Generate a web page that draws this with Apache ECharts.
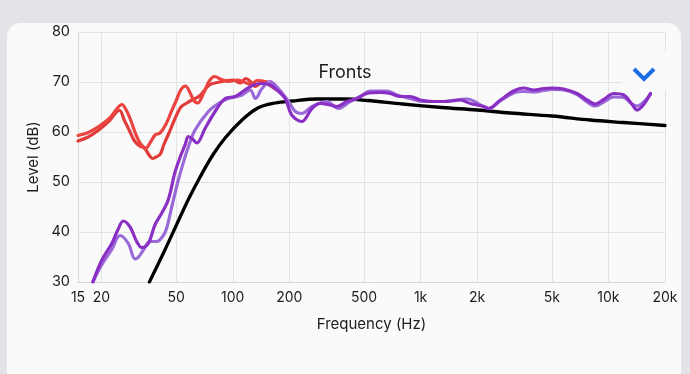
<!DOCTYPE html>
<html>
<head>
<meta charset="utf-8">
<script src="https://cdn.jsdelivr.net/npm/echarts@6/dist/echarts.min.js"></script>
<style>
  html, body { margin: 0; padding: 0; width: 690px; height: 374px; overflow: hidden; background: #e3e4e9; }
  #card { position: absolute; left: 7px; top: 23px; width: 674px; height: 380px; border-radius: 14px; background: #fafafa; }
  #chart { position: absolute; left: 0; top: 0; width: 690px; height: 374px; }
</style>
</head>
<body>
<div id="card"></div>
<div id="chart"></div>
<script>
// ---- data ----
const chartTitle = 'Fronts';
const xTicks = [15, 20, 50, 100, 200, 500, 1000, 2000, 5000, 10000, 20000];
const xMin = 15, xMax = 20000;
const yMin = 30, yMax = 80, yStep = 10;

// [frequency Hz, level dB]
const target = [[36,30],[43,36],[50,41.3],[58,46.5],[67,51],[78,55.3],[91,58.8],[112,62.4],[136,64.8],[168,65.8],[206,66.2],[280,66.6],[400,66.6],[520,66.3],[800,65.6],[1300,64.9],[2000,64.4],[3000,63.8],[5000,63.2],[8000,62.4],[12000,61.9],[20000,61.3]];

const redA = [[15,59.3],[17,59.9],[19.5,61.2],[22,62.7],[24,64.5],[25.7,65.5],[27,64.5],[28.4,62.7],[30.5,59.5],[32.5,57.5],[34.5,56.8],[36.5,58],[38.6,59.4],[41,59.8],[44,61.5],[47,64],[50,66.3],[53,68.5],[56,69.2],[59,68],[62,66.3],[65,65.8],[70,67.8],[75,70.2],[80,71.1],[87,70.5],[95,70.1],[105,70.4],[115,70],[125,69.5],[135,70.3],[145,70.2],[155,69.5],[165,68.8]];

const redB = [[15,58.2],[17,59],[19.5,60.5],[22,62.2],[24,64],[25,64.3],[26.5,62.3],[28,60.5],[30,58.2],[32,57.2],[34,56.7],[36,55.3],[37.5,54.7],[39,55],[41,55.5],[43,57.5],[46,60],[49,62.5],[53,65],[57,65.8],[60,66.3],[67,67.3],[75,69.4],[85,70],[100,70.4],[110,69.8],[117,70.7],[125,70],[131,69.1],[140,69.7],[150,70.1],[160,69.6],[168,68.6]];

const purpleA = [[18,30],[20.1,34.4],[22.7,37.7],[24.5,40.5],[26.1,42.2],[28.4,41],[30.8,38.1],[32.8,36.9],[35.5,37.7],[38.6,41.5],[41.9,43.8],[45.4,46.5],[49.3,52],[53.5,55.8],[55.7,57.4],[58,59.1],[61,58.6],[64.4,57.8],[71.2,60.7],[80.5,64.1],[91,66.7],[103,67.1],[116,68.4],[129,69.4],[143,69.7],[158,69.4],[168,68.7],[190,66.7],[206,63.4],[233,62.1],[264,64.7],[292,65.7],[330,65.4],[358,65.1],[405,66.1],[458,66.7],[518,67.7],[609,67.9],[689,67.7],[779,67.1],[881,67.1],[996,66.4],[1173,66.1],[1381,66.1],[1626,66.4],[1839,65.7],[2165,65.1],[2301,64.7],[2658,66.4],[3128,68.2],[3537,68.8],[3999,68.4],[4520,68.7],[5010,68.8],[5775,68.6],[6808,67.7],[7698,66.4],[8521,65.6],[9435,66.5],[10665,67.7],[12060,67.4],[13370,65.5],[14210,64.4],[15410,65.5],[16720,67.7]];

const purpleB = [[18,30],[20.1,33.5],[22.7,36.5],[25.1,39.3],[27.8,37.7],[30.2,34.6],[31.5,35],[33.4,36.4],[36.3,38.1],[39.4,38.1],[42.7,39.3],[44.5,40.8],[47.4,45.1],[51.3,50.4],[55.7,55],[58,57],[63,60.4],[74.2,64.1],[83.9,65.7],[94.8,66.7],[112,67.4],[124,68.4],[132,66.7],[143,68.7],[158,70.1],[175,68.7],[198,66.1],[215,64.1],[233,63.7],[264,65.1],[317,66.1],[366,64.7],[422,66.1],[477,67.1],[539,68.2],[662,68.2],[748,67.4],[881,66.7],[1037,66.1],[1272,66.1],[1766,66.6],[2165,65.1],[2301,64.7],[2658,66.2],[3128,67.8],[3537,68.1],[3999,68],[4520,68.3],[5010,68.5],[5775,68.4],[6808,67.5],[7698,66],[8521,65.2],[9435,66],[10665,67],[12060,66.9],[13370,65.6],[14210,65.2],[15410,66],[16720,67.5]];

// ---- chart ----
const FONT = 'Inter, "Liberation Sans", Arial, sans-serif';
const chart = echarts.init(document.getElementById('chart'), null, { renderer: 'canvas' });

function fmtHz(v) {
  const r = Math.round(v);
  return r >= 1000 ? (r / 1000) + 'k' : String(r);
}
function line(data, color, width, z) {
  return { type: 'line', data: data, smooth: 0.35, showSymbol: false, symbol: 'none',
           lineStyle: { color: color, width: width, cap: 'round', join: 'round' }, z: z, clip: true };
}

chart.setOption({
  animation: false,
  backgroundColor: 'transparent',
  title: { text: chartTitle, left: 'center', top: 64, padding: 0,
           textStyle: { fontFamily: FONT, fontSize: 18, fontWeight: 'normal', color: '#1c1c1e' } },
  grid: { left: 78, right: 25, top: 32, bottom: 92, containLabel: false },
  xAxis: {
    type: 'log', logBase: 10, min: xMin, max: xMax,
    name: 'Frequency (Hz)', nameLocation: 'middle', nameGap: 35,
    nameTextStyle: { fontFamily: FONT, fontSize: 15, color: '#1c1c1e' },
    axisLine: { show: true, lineStyle: { color: '#d9d9d9', width: 1 } },
    axisTick: { show: false, customValues: xTicks },
    axisLabel: { customValues: xTicks, formatter: fmtHz, margin: 9,
                 fontFamily: FONT, fontSize: 14, color: '#1c1c1e' },
    splitLine: { show: true, lineStyle: { color: '#e3e3e3', width: 1 } },
    minorTick: { show: false }, minorSplitLine: { show: false }
  },
  yAxis: {
    type: 'value', min: yMin, max: yMax, interval: yStep,
    name: 'Level (dB)', nameLocation: 'middle', nameGap: 36,
    nameTextStyle: { fontFamily: FONT, fontSize: 15, color: '#1c1c1e' },
    axisLine: { show: true, lineStyle: { color: '#d9d9d9', width: 1 } },
    axisTick: { show: false },
    axisLabel: { margin: 8, fontFamily: FONT, fontSize: 14.5, color: '#1c1c1e' },
    splitLine: { show: true, lineStyle: { color: '#e3e3e3', width: 1 } }
  },
  series: [
    line(target, '#000000', 3.3, 2),
    line(redB, '#e23b3b', 3.2, 3),
    line(redA, '#ea4340', 3.2, 3),
    line(purpleB, '#9a6ad8', 3.2, 4),
    line(purpleA, '#8a2fc4', 3.2, 4)
  ],
  graphic: [
    { type: 'rect', left: 622, top: 52, z: 50, shape: { width: 45, height: 38 }, style: { fill: '#fafafa' } },
    { type: 'polyline', z: 51, shape: { points: [[634, 69], [644, 79], [654, 69]] },
      style: { stroke: '#1a6fe6', lineWidth: 4, fill: null, lineCap: 'butt', lineJoin: 'miter' } }
  ]
});
</script>
</body>
</html>
